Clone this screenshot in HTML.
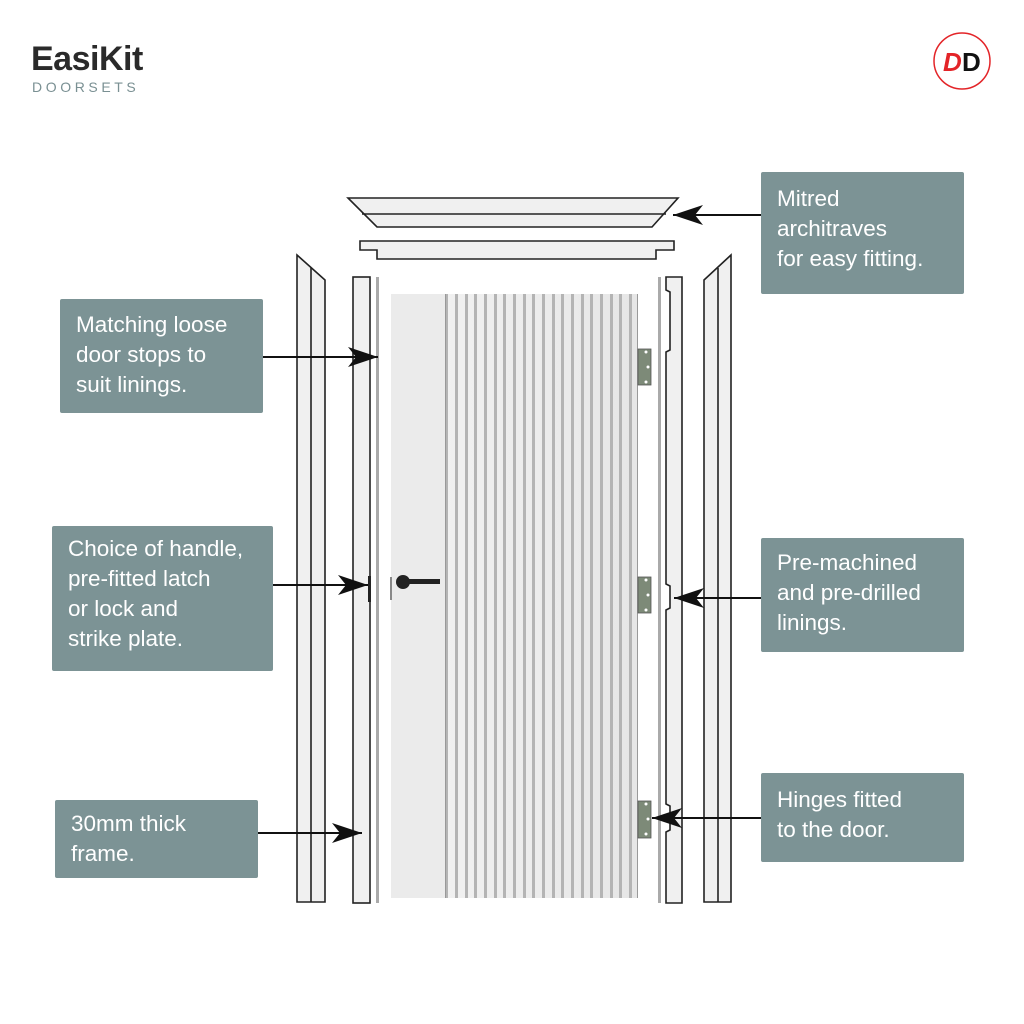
<!DOCTYPE html>
<html><head><meta charset="utf-8"><style>
body{margin:0;background:#fff;}
.w{position:relative;width:1024px;height:1024px;overflow:hidden;font-family:"Liberation Sans",sans-serif;}
.b{position:absolute;background:#7c9395;color:#fff;font-size:22.5px;line-height:30px;padding-left:16px;box-sizing:border-box;border-radius:2px;}
</style></head><body><div class="w">
<div style="position:absolute;left:31px;top:40px;font-size:34px;font-weight:bold;color:#2a2a2a;letter-spacing:-0.5px;">EasiKit</div>
<div style="position:absolute;left:32px;top:79px;font-size:14px;color:#7a9093;letter-spacing:3.6px;">DOORSETS</div>
<svg style="position:absolute;left:0;top:0" width="1024" height="1024">
<defs><marker id="a" markerWidth="32" markerHeight="22" refX="30" refY="11" orient="auto" markerUnits="userSpaceOnUse"><path d="M0,1 L30,11 L0,21 L8,11Z" fill="#111"/></marker>
<linearGradient id="g" x1="0" x2="1"><stop offset="0" stop-color="#f4f4f4"/><stop offset="1" stop-color="#e6e6e6"/></linearGradient></defs>
<circle cx="962" cy="61" r="28" fill="#fff" stroke="#e32428" stroke-width="1.5"/>
<text x="943" y="71" font-size="26" font-weight="bold" font-style="italic" fill="#e32428" font-family="Liberation Sans">D</text>
<text x="962" y="71" font-size="26" font-weight="bold" fill="#111" font-family="Liberation Sans">D</text>
<g stroke="#222" stroke-width="1.6" fill="#f0f0f0">
<polygon points="348,198 678,198 652,227 377,227"/><line x1="362" y1="214" x2="666" y2="214"/>
<polygon points="360,241 674,241 674,250 656,250 656,259 377,259 377,250 360,250"/>
<polygon points="297,255 325,280 325,902 297,902"/><line x1="311" y1="268" x2="311" y2="902"/>
<polygon points="731,255 704,280 704,902 731,902"/><line x1="718" y1="268" x2="718" y2="902"/>
<rect x="353" y="277" width="17" height="626"/>
<polygon points="666,277 682,277 682,903 666,903 666,832 670,830 670,806 666,804 666,610 670,608 670,586 666,584 666,352 670,350 670,292 666,290"/>
</g>
<rect x="376" y="277" width="3" height="626" fill="#aaa"/>
<rect x="658" y="277" width="3" height="626" fill="#aaa"/>
<rect x="391" y="294" width="247" height="604" fill="url(#g)"/>
<rect x="391" y="294" width="54" height="604" fill="#ebebeb"/>
<g fill="#b4b4b4">
<rect x="445" y="294" width="3" height="604"/><rect x="455" y="294" width="3" height="604"/><rect x="465" y="294" width="3" height="604"/><rect x="474" y="294" width="3" height="604"/><rect x="484" y="294" width="3" height="604"/><rect x="494" y="294" width="3" height="604"/><rect x="503" y="294" width="3" height="604"/><rect x="513" y="294" width="3" height="604"/><rect x="523" y="294" width="3" height="604"/><rect x="532" y="294" width="3" height="604"/><rect x="542" y="294" width="3" height="604"/><rect x="552" y="294" width="3" height="604"/><rect x="561" y="294" width="3" height="604"/><rect x="571" y="294" width="3" height="604"/><rect x="581" y="294" width="3" height="604"/><rect x="590" y="294" width="3" height="604"/><rect x="600" y="294" width="3" height="604"/><rect x="610" y="294" width="3" height="604"/><rect x="619" y="294" width="3" height="604"/><rect x="629" y="294" width="3" height="604"/>
</g>
<rect x="445" y="294" width="1" height="604" fill="#999"/><rect x="637" y="294" width="1" height="604" fill="#999"/>
<rect x="390" y="577" width="2" height="23" fill="#888"/>
<circle cx="403" cy="582" r="7" fill="#222"/><rect x="403" y="579" width="37" height="5" fill="#222"/>
<rect x="368" y="576" width="3" height="26" fill="#222"/>
<g fill="#7d8a78" stroke="#555" stroke-width="0.8">
<rect x="638" y="349" width="13" height="36"/><rect x="638" y="577" width="13" height="36"/><rect x="638" y="801" width="13" height="37"/>
</g>
<g fill="#fff">
<circle cx="646" cy="352" r="1.5"/><circle cx="648" cy="367" r="1.5"/><circle cx="646" cy="382" r="1.5"/>
<circle cx="646" cy="580" r="1.5"/><circle cx="648" cy="595" r="1.5"/><circle cx="646" cy="610" r="1.5"/>
<circle cx="646" cy="804" r="1.5"/><circle cx="648" cy="819" r="1.5"/><circle cx="646" cy="834" r="1.5"/>
</g>
<g stroke="#111" stroke-width="2" fill="none" marker-end="url(#a)">
<line x1="761" y1="215" x2="673" y2="215"/>
<line x1="263" y1="357" x2="378" y2="357"/>
<line x1="273" y1="585" x2="368" y2="585"/>
<line x1="258" y1="833" x2="362" y2="833"/>
<line x1="761" y1="598" x2="674" y2="598"/>
<line x1="761" y1="818" x2="652" y2="818"/>
</g>
</svg>
<div class="b" style="left:761px;top:172px;width:203px;height:122px;padding-top:12px;">Mitred<br>architraves<br>for easy fitting.</div>
<div class="b" style="left:60px;top:299px;width:203px;height:114px;padding-top:11px;">Matching loose<br>door stops to<br>suit linings.</div>
<div class="b" style="left:52px;top:526px;width:221px;height:145px;padding-top:8px;">Choice of handle,<br>pre-fitted latch<br>or lock and<br>strike plate.</div>
<div class="b" style="left:55px;top:800px;width:203px;height:78px;padding-top:9px;">30mm thick<br>frame.</div>
<div class="b" style="left:761px;top:538px;width:203px;height:114px;padding-top:10px;">Pre-machined<br>and pre-drilled<br>linings.</div>
<div class="b" style="left:761px;top:773px;width:203px;height:89px;padding-top:12px;">Hinges fitted<br>to the door.</div>
</div></body></html>
